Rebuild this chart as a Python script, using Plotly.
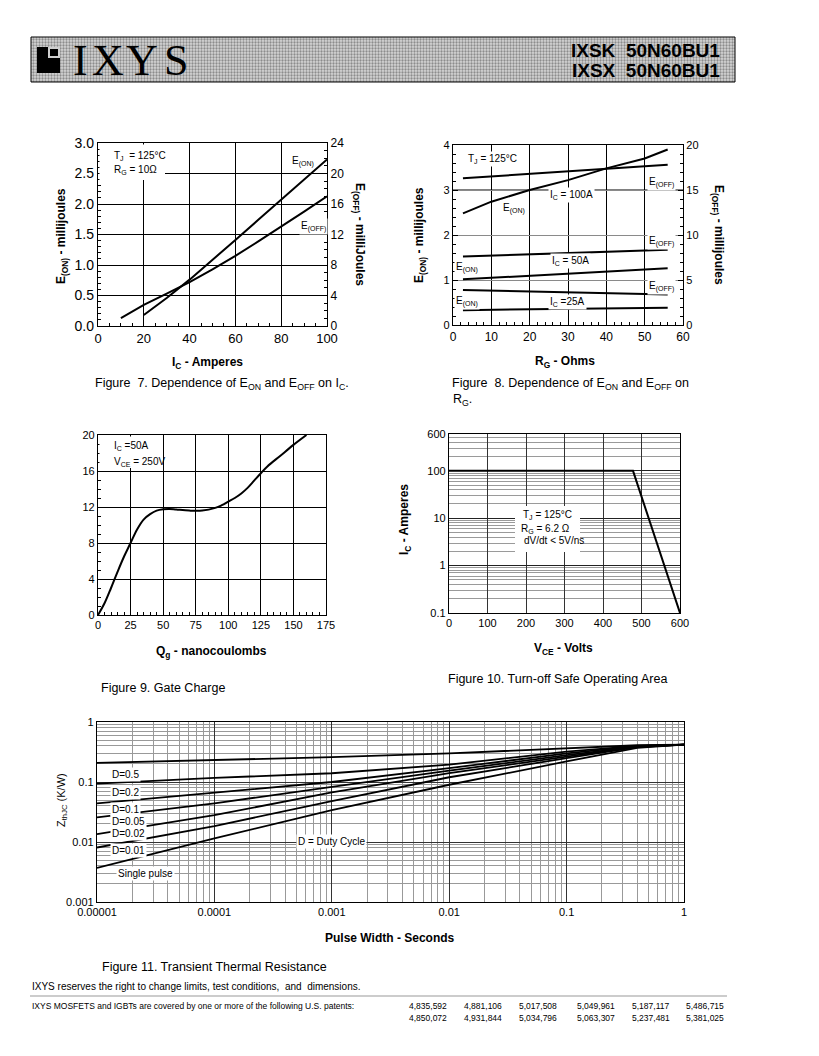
import plotly.graph_objects as go

PAGE_W, PAGE_H = 819, 1056
OFF = 8  # browser default body margin
W, H = PAGE_W - OFF, PAGE_H - OFF
FONT = "Liberation Sans, Arial, Helvetica, sans-serif"
SERIF = "Liberation Serif, Times New Roman, serif"

# ---------------- Figure 7 data ----------------
f7_ic_on = [20, 30, 40, 50, 60, 70, 80, 90, 100]
f7_eon_mj = [0.18, 0.46, 0.76, 1.08, 1.41, 1.74, 2.07, 2.40, 2.73]
f7_ic_off = [10, 20, 30, 40, 50, 60, 70, 80, 90, 100]
f7_eoff_mj = [1.04, 2.76, 4.24, 5.76, 7.44, 9.2, 11.1, 13.0, 15.0, 17.0]

# ---------------- Figure 8 data ----------------
f8_rg_on100 = [2.6, 10, 20, 30, 40, 50, 56]
f8_eon_100 = [2.48, 2.74, 3.0, 3.22, 3.48, 3.70, 3.90]
f8_rg = [2.6, 56]
f8_eoff_100 = [16.3, 17.8]
f8_eoff_50 = [7.6, 8.35]
f8_eon_50 = [1.015, 1.26]
f8_eoff_25 = [3.9, 3.4]
f8_eon_25 = [0.33, 0.385]

# ---------------- Figure 9 data ----------------
f9_qg = [0, 5, 10, 15, 20, 25, 30, 35, 40, 45, 50, 55, 60, 70, 80, 90, 95, 100,
         105, 110, 115, 120, 125, 130, 140, 150, 160]
f9_vge = [0, 1.3, 3.0, 4.8, 6.5, 8.0, 9.5, 10.6, 11.2, 11.6, 11.75, 11.78, 11.72, 11.6,
          11.6, 11.9, 12.2, 12.6, 13.0, 13.5, 14.15, 14.95, 15.75, 16.5, 17.7, 18.9, 20.0]

# ---------------- Figure 10 data ----------------
f10_vce = [0, 478, 600]
f10_ic = [100, 100, 0.1]

# ---------------- Figure 11 data ----------------
f11_t = [1e-5, 1e-4, 1e-3, 1e-2, 1e-1, 0.4, 1]
f11_d05 = [0.208, 0.23, 0.26, 0.30, 0.36, 0.41, 0.42]
f11_d02 = [0.094, 0.117, 0.14, 0.195, 0.32, 0.40, 0.42]
f11_d01 = [0.044, 0.066, 0.10, 0.17, 0.30, 0.395, 0.42]
f11_d005 = [0.0257, 0.044, 0.083, 0.155, 0.28, 0.39, 0.42]
f11_d002 = [0.0135, 0.028, 0.067, 0.14, 0.265, 0.385, 0.42]
f11_d001 = [0.0081, 0.0184, 0.048, 0.12, 0.25, 0.38, 0.42]
f11_single = [0.0037, 0.0115, 0.034, 0.09, 0.22, 0.37, 0.42]
f11_xticks = [1e-5, 1e-4, 1e-3, 1e-2, 1e-1, 1]
f11_xtext = ["0.00001", "0.0001", "0.001", "0.01", "0.1", "1"]
f11_yticks = [0.001, 0.01, 0.1, 1]
f11_ytext = ["0.001", "0.01", "0.1", "1"]

patents_row1 = ["4,835,592", "4,881,106", "5,017,508", "5,049,961", "5,187,117", "5,486,715"]
patents_row2 = ["4,850,072", "4,931,844", "5,034,796", "5,063,307", "5,237,481", "5,381,025"]

# header banner outline (page pixels)
banner_x = [31, 735, 735, 31, 31]
banner_y = [37, 37, 82, 82, 37]

fig = go.Figure()


def tr(x, y, xa, ya, width=2, shape="linear"):
    fig.add_trace(go.Scatter(x=x, y=y, xaxis=xa, yaxis=ya, mode="lines",
                             line=dict(color="black", width=width, shape=shape),
                             showlegend=False, hoverinfo="skip"))


# Fig 7
tr(f7_ic_on, f7_eon_mj, "x", "y")
tr(f7_ic_off, f7_eoff_mj, "x", "y2")
# Fig 8
tr(f8_rg_on100, f8_eon_100, "x3", "y3")
tr(f8_rg, f8_eon_50, "x3", "y3")
tr(f8_rg, f8_eon_25, "x3", "y3")
tr(f8_rg, f8_eoff_100, "x3", "y4")
tr(f8_rg, f8_eoff_50, "x3", "y4")
tr(f8_rg, f8_eoff_25, "x3", "y4")
# Fig 9
tr(f9_qg, f9_vge, "x5", "y5", shape="spline")
# Fig 10
tr(f10_vce, f10_ic, "x6", "y6")
# Fig 11
for ser in [f11_d05, f11_d02, f11_d01, f11_d005, f11_d002, f11_d001, f11_single]:
    tr(f11_t, ser, "x7", "y7", width=1.8)

# Header banner with dithered fill (page-pixel axes x8/y8)
fig.add_trace(go.Scatter(x=banner_x, y=banner_y, xaxis="x8", yaxis="y8", mode="lines",
                         fill="toself", fillcolor="#c4c4c4",
                         fillpattern=dict(shape=".", size=3, solidity=0.45,
                                          fgcolor="#8c8c8c", bgcolor="#d6d6d6",
                                          fillmode="replace"),
                         line=dict(color="black", width=1),
                         showlegend=False, hoverinfo="skip"))


def PX(p):
    return (p - OFF) / W


def PY(p):
    return 1 - (p - OFF) / H


def dom_x(a, b):
    return [PX(a), PX(b)]


def dom_y(top, bottom):
    return [PY(bottom), PY(top)]


def axis(domain, anchor, **kw):
    d = dict(domain=domain, anchor=anchor, showline=True, linecolor="black", linewidth=1.3,
             mirror=True, showgrid=True, gridcolor="black", gridwidth=1, zeroline=False,
             ticks="", tickfont=dict(family=FONT, size=11, color="black"),
             fixedrange=True, automargin=False)
    d.update(kw)
    return d


def minor_ticks(dt, ln=3):
    return dict(ticks="inside", dtick=dt, ticklen=ln, tickcolor="black", tickwidth=1, showgrid=False)


def log_minor(decs, extra=None):
    vals = [k * 10 ** e for e in decs for k in range(2, 10)]
    if extra:
        vals += extra
    return vals


hidden = dict(visible=False, showgrid=False, zeroline=False, fixedrange=True, automargin=False)

layout = dict(
    width=W, height=H, autosize=False,
    margin=dict(l=0, r=0, t=0, b=0),
    paper_bgcolor="white", plot_bgcolor="rgba(0,0,0,0)",
    showlegend=False,
    # Fig 7
    xaxis=axis(dom_x(98, 327), "y", range=[0, 100], dtick=20, tick0=0,
               ticks="inside", ticklen=5, tickcolor="black",
               tickfont=dict(family=FONT, size=13, color="black"), minor=minor_ticks(5)),
    yaxis=axis(dom_y(143, 326), "x", range=[0, 3], dtick=0.5, tick0=0, tickformat=".1f",
               ticks="inside", ticklen=5, tickcolor="black", mirror=False,
               tickfont=dict(family=FONT, size=14, color="black"), minor=minor_ticks(0.1)),
    yaxis2=axis(dom_y(143, 326), "x", overlaying="y", side="right", range=[0, 24], dtick=4,
                tick0=0, showgrid=False, ticks="inside", ticklen=5, tickcolor="black",
                mirror=False, tickfont=dict(family=FONT, size=12, color="black"),
                minor=minor_ticks(1)),
    # Fig 8
    xaxis3=axis(dom_x(453, 683), "y3", range=[0, 60], dtick=10, tick0=0,
                ticks="inside", ticklen=5, tickcolor="black",
                tickfont=dict(family=FONT, size=12, color="black"), minor=minor_ticks(2)),
    yaxis3=axis(dom_y(145, 325), "x3", range=[0, 4], dtick=1, tick0=0, gridcolor="#8a8a8a",
                ticks="inside", ticklen=5, tickcolor="black", mirror=False,
                tickfont=dict(family=FONT, size=11, color="black"), minor=minor_ticks(0.2)),
    yaxis4=axis(dom_y(145, 325), "x3", overlaying="y3", side="right", range=[0, 20], dtick=5,
                tick0=0, showgrid=False, ticks="inside", ticklen=5, tickcolor="black",
                mirror=False, tickfont=dict(family=FONT, size=11, color="black"),
                minor=minor_ticks(1)),
    # Fig 9
    xaxis5=axis(dom_x(98, 326), "y5", range=[0, 175], dtick=25, tick0=0,
                ticks="inside", ticklen=5, tickcolor="black",
                tickfont=dict(family=FONT, size=11, color="black"), minor=minor_ticks(5)),
    yaxis5=axis(dom_y(435, 615), "x5", range=[0, 20], dtick=4, tick0=0,
                ticks="inside", ticklen=5, tickcolor="black",
                tickfont=dict(family=FONT, size=11, color="black"), minor=minor_ticks(1)),
    # Fig 10
    xaxis6=axis(dom_x(449, 680), "y6", range=[0, 600], dtick=100, tick0=0, gridcolor="#333333",
                tickfont=dict(family=FONT, size=11, color="black")),
    yaxis6=axis(dom_y(434, 613), "x6", type="log", range=[-1, 2.77815],
                tickmode="array", tickvals=[0.1, 1, 10, 100, 600],
                ticktext=["0.1", "1", "10", "100", "600"], gridcolor="#222222",
                tickfont=dict(family=FONT, size=11, color="black"),
                minor=dict(tickmode="array", tickvals=log_minor([-1, 0, 1], [200, 300, 400, 500]),
                           showgrid=True, gridcolor="#9a9a9a", gridwidth=1, ticks="")),
    # Fig 11
    xaxis7=axis(dom_x(97, 684), "y7", type="log", range=[-5, 0],
                tickmode="array", tickvals=f11_xticks, ticktext=f11_xtext, gridcolor="#333333",
                tickfont=dict(family=FONT, size=11, color="black"),
                minor=dict(tickmode="array", tickvals=log_minor([-5, -4, -3, -2, -1]),
                           showgrid=True, gridcolor="#999999", gridwidth=1, ticks="")),
    yaxis7=axis(dom_y(722, 902), "x7", type="log", range=[-3, 0],
                tickmode="array", tickvals=f11_yticks, ticktext=f11_ytext, gridcolor="#333333",
                tickfont=dict(family=FONT, size=11, color="black"),
                minor=dict(tickmode="array", tickvals=log_minor([-3, -2, -1]),
                           showgrid=True, gridcolor="#999999", gridwidth=1, ticks="")),
    # header page-pixel axes
    xaxis8=dict(hidden, domain=[0, 1], anchor="y8", range=[OFF, PAGE_W]),
    yaxis8=dict(hidden, domain=[0, 1], anchor="x8", range=[PAGE_H, OFF]),
)
fig.update_layout(**layout)


def txt(text, x, y, size=11, xanchor="center", yanchor="middle", angle=0, bg=None,
        family=FONT, xref="paper", yref="paper", align="left", color="black"):
    if xref == "paper":
        x = PX(x)
    if yref == "paper":
        y = PY(y)
    fig.add_annotation(text=text, x=x, y=y, xref=xref, yref=yref, showarrow=False,
                       xanchor=xanchor, yanchor=yanchor, textangle=angle, align=align,
                       font=dict(family=family, size=size, color=color),
                       bgcolor=bg if bg else "rgba(0,0,0,0)", borderpad=1)


def rect(x0, y0, x1, y1, fill, line_color=None, lw=1, layer="above"):
    fig.add_shape(type="rect", xref="paper", yref="paper",
                  x0=PX(x0), x1=PX(x1), y0=PY(y0), y1=PY(y1),
                  fillcolor=fill, layer=layer,
                  line=dict(color=line_color if line_color else fill, width=lw if line_color else 0))


# ---------------- Header ----------------
rect(37, 47, 60, 73, "black")
rect(48, 47, 60, 58, "#cfcfcf")
rect(50, 49, 58, 56, "black")
for ch, cx in zip(["I", "X", "Y", "S"], [80, 108, 142, 176]):
    txt(ch, cx, 61, size=44, family=SERIF)
txt("<b>IXSK  50N60BU1</b>", 722, 50, size=19, xanchor="right")
txt("<b>IXSX  50N60BU1</b>", 722, 71, size=19, xanchor="right")

# ---------------- Figure 7 annotations ----------------
rect(99.5, 144.5, 165, 180, "white")
txt("T<sub>J</sub>  = 125°C", 112, 156, size=10, xanchor="left")
txt("R<sub>G</sub> = 10Ω", 112, 170, size=10, xanchor="left")
txt("E<sub>(ON)</sub>", 89.5, 2.69, size=10, xref="x", yref="y")
txt("E<sub>(OFF)</sub>", 94, 1.63, size=10, xref="x", yref="y", bg="white")
txt("<b>E<sub>(ON)</sub> - millijoules</b>", 62, 236, size=12, angle=-90)
txt("<b>E<sub>(OFF)</sub> - milliJoules</b>", 359, 234, size=12, angle=90)
txt("<b>I<sub>C</sub> - Amperes</b>", 207, 363, size=12)
txt("Figure  7. Dependence of E<sub>ON</sub> and E<sub>OFF</sub> on I<sub>C</sub>.", 93, 384,
    size=12.5, xanchor="left")

# ---------------- Figure 8 annotations ----------------
fig.add_shape(type="line", xref="x3", yref="y3", x0=0, x1=60, y0=3, y1=3,
              line=dict(color="black", width=1), layer="below")
txt("T<sub>J</sub> = 125°C", 10.2, 3.69, size=10, xref="x3", yref="y3", bg="white")
txt("E<sub>(OFF)</sub>", 54.5, 3.16, size=10, xref="x3", yref="y3", bg="white")
txt("I<sub>C</sub> = 100A", 31, 2.89, size=10, xref="x3", yref="y3", bg="white")
txt("E<sub>(ON)</sub>", 15.8, 2.6, size=10, xref="x3", yref="y3", bg="white")
txt("E<sub>(OFF)</sub>", 54.3, 1.85, size=10, xref="x3", yref="y3", bg="white")
txt("I<sub>C</sub> = 50A", 30.6, 1.43, size=10, xref="x3", yref="y3", bg="white")
txt("E<sub>(ON)</sub>", 3.6, 1.27, size=10, xref="x3", yref="y3", bg="white")
txt("E<sub>(OFF)</sub>", 54.5, 0.85, size=10, xref="x3", yref="y3", bg="white")
txt("I<sub>C</sub> =25A", 29.8, 0.52, size=10, xref="x3", yref="y3", bg="white")
txt("E<sub>(ON)</sub>", 3.6, 0.53, size=10, xref="x3", yref="y3", bg="white")
txt("<b>E<sub>(ON)</sub> - millijoules</b>", 420, 235, size=12, angle=-90)
txt("<b>E<sub>(OFF)</sub> - millijoules</b>", 718, 235, size=12, angle=90)
txt("<b>R<sub>G</sub> - Ohms</b>", 565, 362, size=12)
txt("Figure  8. Dependence of E<sub>ON</sub> and E<sub>OFF</sub> on", 450, 384, size=12.5,
    xanchor="left")
txt("R<sub>G</sub>.", 451, 400, size=12.5, xanchor="left")

# ---------------- Figure 9 annotations ----------------
rect(99.5, 436.5, 163, 468, "white")
txt("I<sub>C</sub> =50A", 112, 446, size=10, xanchor="left")
txt("V<sub>CE</sub> = 250V", 112, 462, size=10, xanchor="left")
txt("<b>Q<sub>g</sub> - nanocoulombs</b>", 212, 652, size=12)
txt("Figure 9. Gate Charge", 99, 688, size=12.5, xanchor="left")

# ---------------- Figure 10 annotations ----------------
rect(515, 506, 580, 552, "white")
txt("T<sub>J</sub> = 125°C", 521, 515, size=10, xanchor="left")
txt("R<sub>G</sub> = 6.2 Ω", 519, 529, size=10, xanchor="left")
txt("dV/dt &lt; 5V/ns", 522, 541, size=10, xanchor="left")
txt("<b>I<sub>C</sub> - Amperes</b>", 405, 520, size=12, angle=-90)
txt("<b>V<sub>CE</sub> - Volts</b>", 563, 649, size=12)
txt("Figure 10. Turn-off Safe Operating Area", 446, 679, size=12.5, xanchor="left")

# ---------------- Figure 11 annotations ----------------
lx = -4.887
for lab, ly in [("D=0.5", -0.875), ("D=0.2", -1.18), ("D=0.1", -1.453), ("D=0.05", -1.664),
                ("D=0.02", -1.857), ("D=0.01", -2.135)]:
    txt(lab, lx, ly, size=10, xref="x7", yref="y7", xanchor="left", bg="white")
txt("Single pulse", -4.84, -2.523, size=10, xref="x7", yref="y7", xanchor="left", bg="white")
txt("D = Duty Cycle", -3.0, -1.985, size=10, xref="x7", yref="y7", bg="white")
txt("Z<sub>thJC</sub> (K/W)", 62, 800, size=11, angle=-90)
txt("<b>Pulse Width - Seconds</b>", 390, 938, size=12)
txt("Figure 11. Transient Thermal Resistance", 100, 967, size=12.5, xanchor="left")

# ---------------- Footer ----------------
txt("IXYS reserves the right to change limits, test conditions,  and  dimensions.", 30, 986,
    size=10, xanchor="left")
fig.add_shape(type="line", xref="paper", yref="paper", x0=PX(30), x1=PX(727),
              y0=PY(996), y1=PY(996), line=dict(color="#999999", width=1))
txt("IXYS MOSFETS and IGBTs are covered by one or more of the following U.S. patents:", 30,
    1006, size=8.5, xanchor="left")
pcols = [407, 462, 517, 575, 630, 684]
for p, cx in zip(patents_row1, pcols):
    txt(p, cx, 1006, size=8.5, xanchor="left")
for p, cx in zip(patents_row2, pcols):
    txt(p, cx, 1018, size=8.5, xanchor="left")

fig.write_html("out.html")
